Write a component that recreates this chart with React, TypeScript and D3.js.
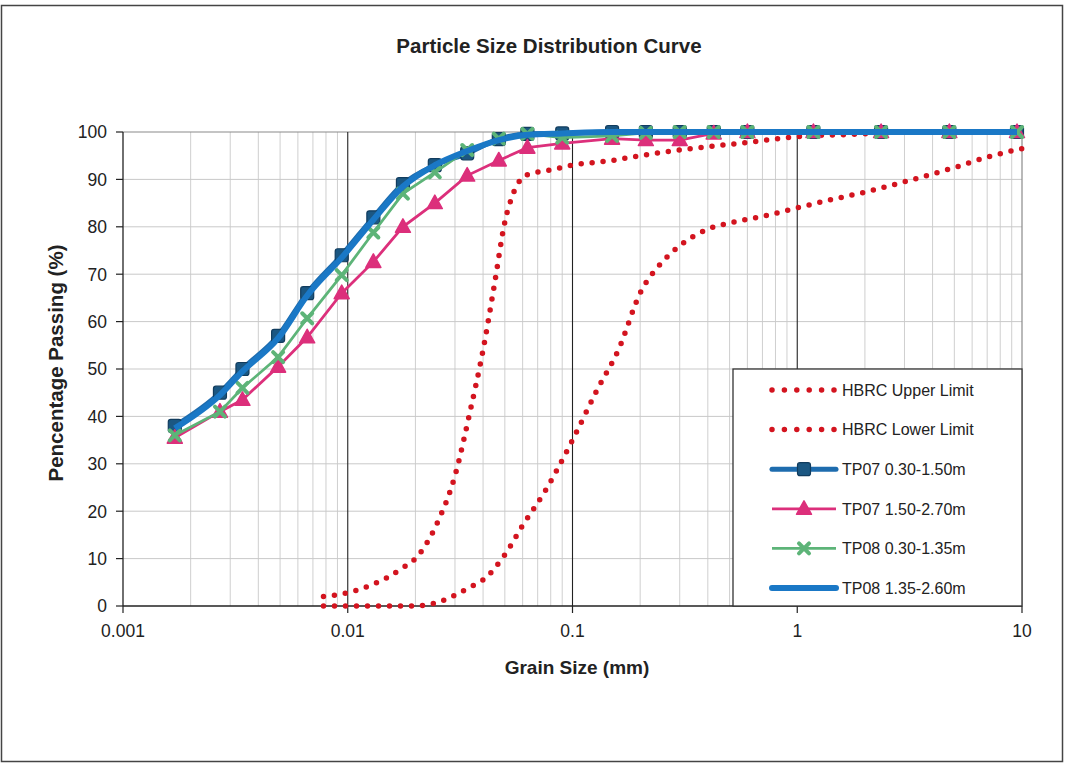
import React from "react";
import * as d3 from "d3";

// grain sizes (mm) shared by the test results
const grainSizes = [
  0.0017, 0.0027, 0.0034, 0.0049, 0.0066, 0.0094, 0.013, 0.0176, 0.0244, 0.034,
  0.047, 0.063, 0.09, 0.15, 0.212, 0.3, 0.425, 0.6, 1.18, 2.36, 4.75, 9.5,
];

const tp07a = [38, 45, 50, 57, 66, 74, 82, 89, 93, 95.5, 98.5, 99.6, 99.7, 100, 100, 100, 100, 100, 100, 100, 100, 100];
const tp07b = [35.5, 41, 43.5, 50.5, 56.7, 66, 72.6, 80, 85, 90.8, 94, 96.7, 97.6, 98.6, 98.3, 98.3, 99.7, 100, 100, 100, 100, 100];
const tp08a = [36, 41, 46, 52.5, 60.7, 69.8, 78.8, 87, 91.5, 96.2, 98.6, 99.6, 98.8, 99.2, 99.8, 100, 100, 100, 100, 100, 100, 100];
const tp08b = [37.5, 44.5, 49.5, 56.5, 65.5, 73.5, 81.5, 88.5, 93, 96, 98.3, 99.4, 99.7, 100, 100, 100, 100, 100, 100, 100, 100, 100];

const upperX = [0.0078, 0.01, 0.0125, 0.015, 0.0175, 0.02, 0.025, 0.03, 0.035, 0.04, 0.045, 0.05, 0.055, 0.063, 0.08, 0.1, 0.15, 0.2, 0.3, 0.6, 1, 2, 3, 10];
const upperY = [2, 2.8, 4.3, 6, 8, 10, 17.5, 27.5, 41, 54, 68, 81, 87.5, 91, 92, 93, 94, 95, 96.2, 97.8, 99, 99.6, 100, 100];

const lowerX = [0.0078, 0.01, 0.015, 0.02, 0.024, 0.03, 0.035, 0.04, 0.05, 0.06, 0.075, 0.1, 0.13, 0.16, 0.2, 0.25, 0.3, 0.4, 0.5, 0.7, 1, 1.5, 2, 3, 5, 7, 10];
const lowerY = [0, 0, 0, 0, 0.5, 2.3, 4, 5.5, 10.8, 17, 24, 35, 46, 54, 66, 72.5, 76, 79.5, 80.8, 82.2, 84, 86, 87.3, 89.5, 92.5, 94.7, 96.5];

const xTicks = [0.001, 0.01, 0.1, 1, 10];
const xTickLabels = ["0.001", "0.01", "0.1", "1", "10"];
const yTicks = [0, 10, 20, 30, 40, 50, 60, 70, 80, 90, 100];

const legendItems = [
  { name: "HBRC Upper Limit", kind: "dots" },
  { name: "HBRC Lower Limit", kind: "dots" },
  { name: "TP07 0.30-1.50m", kind: "square" },
  { name: "TP07 1.50-2.70m", kind: "triangle" },
  { name: "TP08 0.30-1.35m", kind: "cross" },
  { name: "TP08 1.35-2.60m", kind: "line" },
];

const W = 1065;
const H = 764;
const font = "'Liberation Sans', Arial, sans-serif";
const RED = "#d3141f";
const BLUE = "#1a78c6";
const NAVY = "#1b5782";
const PINK = "#dc2f7b";
const GREEN = "#5db478";

const x = d3.scaleLog().domain([0.001, 10]).range([123, 1022]);
const y = d3.scaleLinear().domain([0, 100]).range([606, 132]);

const zip = (xs: number[], ys: number[]) => xs.map((v, i) => [v, ys[i]] as [number, number]);

const smooth = d3.line<[number, number]>().x(d => x(d[0])).y(d => y(d[1])).curve(d3.curveMonotoneX);
const straight = d3.line<[number, number]>().x(d => x(d[0])).y(d => y(d[1]));

const Square = ({ cx, cy }: { cx: number; cy: number }) => (
  <rect x={cx - 6.5} y={cy - 6.5} width={13} height={13} rx={2.5} fill={NAVY} stroke="#113c5e" strokeWidth={1.2} />
);
const Triangle = ({ cx, cy }: { cx: number; cy: number }) => (
  <path
    d={`M${cx},${cy - 8}L${cx + 7.5},${cy + 5.5}L${cx - 7.5},${cy + 5.5}Z`}
    fill={PINK}
    stroke={PINK}
    strokeWidth={1.5}
    strokeLinejoin="round"
  />
);
const Cross = ({ cx, cy }: { cx: number; cy: number }) => (
  <path
    d={`M${cx - 5},${cy - 5}L${cx + 5},${cy + 5}M${cx - 5},${cy + 5}L${cx + 5},${cy - 5}`}
    stroke={GREEN}
    strokeWidth={4}
    strokeLinecap="round"
  />
);

export default function App() {
  const minorTicks: number[] = [];
  [0.001, 0.01, 0.1, 1].forEach(dec => {
    for (let k = 2; k <= 9; k++) minorTicks.push(dec * k);
  });

  const upper = zip(upperX, upperY);
  const lower = zip(lowerX, lowerY);
  const s07a = zip(grainSizes, tp07a);
  const s07b = zip(grainSizes, tp07b);
  const s08a = zip(grainSizes, tp08a);
  const s08b = zip(grainSizes, tp08b);

  const lgX0 = 772;
  const lgX1 = 836;
  const lgMid = (lgX0 + lgX1) / 2;
  const lgRow = (i: number) => 390 + i * 39.6;

  return (
    <svg
      width={W}
      height={H}
      style={{ position: "absolute", left: 0, top: 0, background: "#fff" }}
      fontFamily={font}
    >
      <rect x={1.5} y={5.5} width={1061} height={756} fill="#fff" stroke="#444" strokeWidth={1.5} />

      {/* grid */}
      {minorTicks.map(t => (
        <line key={"m" + t} x1={x(t)} x2={x(t)} y1={y(0)} y2={y(100)} stroke="#cfcfcf" strokeWidth={1} />
      ))}
      {yTicks.slice(1, -1).map(t => (
        <line key={"h" + t} x1={x(0.001)} x2={x(10)} y1={y(t)} y2={y(t)} stroke="#c9c9c9" strokeWidth={1} />
      ))}
      <line x1={x(0.001)} x2={x(10)} y1={y(100)} y2={y(100)} stroke="#8a8a8a" strokeWidth={1.2} />
      <line x1={x(10)} x2={x(10)} y1={y(0)} y2={y(100)} stroke="#8a8a8a" strokeWidth={1.2} />
      {[0.01, 0.1, 1].map(t => (
        <line key={"d" + t} x1={x(t)} x2={x(t)} y1={y(0)} y2={y(100)} stroke="#222" strokeWidth={1.1} />
      ))}

      {/* axes */}
      <line x1={x(0.001)} x2={x(0.001)} y1={y(0)} y2={y(100)} stroke="#222" strokeWidth={1.3} />
      <line x1={x(0.001)} x2={x(10)} y1={y(0)} y2={y(0)} stroke="#222" strokeWidth={1.3} />
      {yTicks.map(t => (
        <g key={"yt" + t}>
          <line x1={x(0.001) - 7} x2={x(0.001)} y1={y(t)} y2={y(t)} stroke="#222" strokeWidth={1.2} />
          <text x={107} y={y(t)} dy="0.36em" textAnchor="end" fontSize={17.5} fill="#222">
            {t}
          </text>
        </g>
      ))}
      {xTicks.map((t, i) => (
        <g key={"xt" + t}>
          <line x1={x(t)} x2={x(t)} y1={y(0)} y2={y(0) + 7} stroke="#222" strokeWidth={1.2} />
          <text x={x(t)} y={637} textAnchor="middle" fontSize={17.5} fill="#222">
            {xTickLabels[i]}
          </text>
        </g>
      ))}

      {/* titles */}
      <text x={549} y={53} textAnchor="middle" fontSize={20.5} fontWeight="bold" fill="#222">
        Particle Size Distribution Curve
      </text>
      <text x={577} y={674} textAnchor="middle" fontSize={19} fontWeight="bold" fill="#222">
        Grain Size (mm)
      </text>
      <text
        transform="translate(63,363) rotate(-90)"
        textAnchor="middle"
        fontSize={20.5}
        fontWeight="bold"
        fill="#222"
      >
        Pencentage Passing (%)
      </text>

      {/* series */}
      <path d={smooth(upper) || ""} fill="none" stroke={RED} strokeWidth={5.5} strokeDasharray="0 11" strokeLinecap="round" />
      <path d={smooth(lower) || ""} fill="none" stroke={RED} strokeWidth={5.5} strokeDasharray="0 11" strokeLinecap="round" />

      <path d={smooth(s07a) || ""} fill="none" stroke="#1e6cae" strokeWidth={5} />
      {s07a.map((d, i) => (
        <Square key={"a" + i} cx={x(d[0])} cy={y(d[1])} />
      ))}

      <path d={straight(s07b) || ""} fill="none" stroke={PINK} strokeWidth={2.8} />
      {s07b.map((d, i) => (
        <Triangle key={"b" + i} cx={x(d[0])} cy={y(d[1])} />
      ))}

      <path d={straight(s08a) || ""} fill="none" stroke={GREEN} strokeWidth={2.8} />
      {s08a.map((d, i) => (
        <Cross key={"c" + i} cx={x(d[0])} cy={y(d[1])} />
      ))}

      <path d={smooth(s08b) || ""} fill="none" stroke={BLUE} strokeWidth={6} strokeLinejoin="round" />

      {/* legend */}
      <rect x={733} y={369} width={289} height={237} fill="#fff" stroke="#333" strokeWidth={1.3} />
      {legendItems.map((it, i) => {
        const cy = lgRow(i);
        return (
          <g key={it.name}>
            {it.kind === "dots" && (
              <line x1={lgX0} x2={lgX1} y1={cy} y2={cy} stroke={RED} strokeWidth={5.5} strokeDasharray="0 12.4" strokeLinecap="round" />
            )}
            {it.kind === "square" && (
              <>
                <line x1={lgX0} x2={lgX1} y1={cy} y2={cy} stroke="#1e6cae" strokeWidth={5} strokeLinecap="round" />
                <Square cx={lgMid} cy={cy} />
              </>
            )}
            {it.kind === "triangle" && (
              <>
                <line x1={lgX0} x2={lgX1} y1={cy} y2={cy} stroke={PINK} strokeWidth={2.8} />
                <Triangle cx={lgMid} cy={cy} />
              </>
            )}
            {it.kind === "cross" && (
              <>
                <line x1={lgX0} x2={lgX1} y1={cy} y2={cy} stroke={GREEN} strokeWidth={2.8} />
                <Cross cx={lgMid} cy={cy} />
              </>
            )}
            {it.kind === "line" && (
              <line x1={lgX0} x2={lgX1} y1={cy} y2={cy} stroke={BLUE} strokeWidth={6} strokeLinecap="round" />
            )}
            <text x={842} y={cy} dy="0.36em" fontSize={16} fill="#222">
              {it.name}
            </text>
          </g>
        );
      })}
    </svg>
  );
}
